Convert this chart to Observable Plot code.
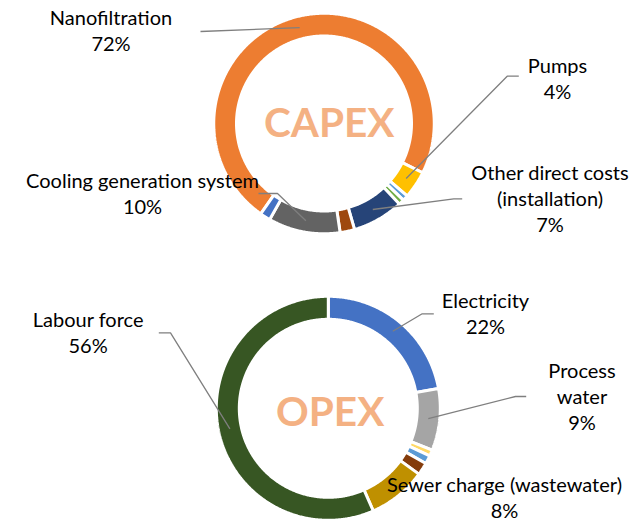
<!DOCTYPE html>
<html><head><meta charset="utf-8">
<script src="https://cdn.jsdelivr.net/npm/d3@7"></script>
<script src="https://cdn.jsdelivr.net/npm/@observablehq/plot@0.6"></script>
<style>html,body{margin:0;padding:0;background:#fff}#chart svg{display:block}</style>
</head><body><div id="chart"></div>
<script>
// ---------------- data ----------------
const capexCategories = ["Nanofiltration","Pumps","Minor item A","Minor item B","Other direct costs (installation)","Minor item C","Cooling generation system","Minor item D"];
const capexValues = [71.7, 4.0, 0.8, 0.8, 7.4, 2.1, 10.4, 1.5];
const capexColors = ["#ED7D31","#FFC000","#5B9BD5","#70AD47","#264478","#9E480E","#636363","#4472C4"];

const opexCategories = ["Electricity","Process water","Minor item 1","Minor item 2","Minor item 3","Sewer charge (wastewater)","Labour force"];
const opexValues = [22.1, 8.9, 0.9, 1.2, 1.8, 8.4, 56.4];
const opexColors = ["#4472C4","#A5A5A5","#FFD966","#5B9BD5","#843C0C","#BF9000","#375623"];

const chartTitles = ["CAPEX","OPEX"];

// label text (line breaks as in the chart)
const labelLines = {
  "Nanofiltration": ["Nanofiltration"],
  "Pumps": ["Pumps"],
  "Other direct costs (installation)": ["Other direct costs","(installation)"],
  "Cooling generation system": ["Cooling generation system"],
  "Electricity": ["Electricity"],
  "Process water": ["Process","water"],
  "Sewer charge (wastewater)": ["Sewer charge (wastewater)"],
  "Labour force": ["Labour force"]
};

// ---------------- layout ----------------
const W = 643, H = 522;
const donuts = {
  CAPEX: {cx: 323.5, cy: 123, rOut: 108.75, rIn: 89, start: 215, titleX: 328.8, titleY: 136},
  OPEX:  {cx: 327.8, cy: 407.8, rOut: 110.5, rIn: 90.5, start: 0, titleX: 329.7, titleY: 425.7}
};
const labelLayout = {
  "Nanofiltration": {x: 110.5, y: 50.7, leader: [[200, 31]]},
  "Pumps": {x: 557, y: 98, leader: [[518.3, 75.7], [506.7, 75.7]]},
  "Other direct costs (installation)": {x: 549.5, y: 231.7, leader: [[461.7, 198.3], [453.3, 198.3]]},
  "Cooling generation system": {x: 142, y: 213, leader: [[258, 193], [277, 193]]},
  "Labour force": {x: 87.6, y: 352.7, leader: [[158.3, 332.3], [170, 332.3]]},
  "Electricity": {x: 485, y: 333.3, leader: [[433.3, 313.3], [421.7, 313.3]]},
  "Process water": {x: 581.5, y: 429, leader: [[525.7, 396], [515, 396]]},
  "Sewer charge (wastewater)": {x: 504, y: 517.5, leader: null}
};
const GAP = 3;
const labelFont = {fontFamily: "Lato", fontSize: 20, lineHeight: 26 / 20};

// ---------------- build ----------------
function polar(d, r, a) {
  const t = a * Math.PI / 180;
  return [d.cx + r * Math.sin(t), d.cy - r * Math.cos(t)];
}
const slicePts = [], labels = [], leaders = [];
function addRing(name, cats, vals, cols) {
  const d = donuts[name];
  const total = d3.sum(vals);
  let acc = 0;
  cats.forEach((c, i) => {
    const a0 = d.start + acc / total * 360; acc += vals[i];
    const a1 = d.start + acc / total * 360;
    const n = Math.max(2, Math.ceil((a1 - a0) / 0.5));
    const pts = [];
    for (let k = 0; k <= n; k++) pts.push(polar(d, d.rOut + GAP / 2, a0 + (a1 - a0) * k / n));
    for (let k = n; k >= 0; k--) pts.push(polar(d, d.rIn - GAP / 2, a0 + (a1 - a0) * k / n));
    pts.push(pts[0]);
    pts.forEach(p => slicePts.push({key: name + ":" + c, x: p[0], y: p[1], color: cols[i]}));
    const L = labelLayout[c];
    if (L) {
      labels.push({x: L.x, y: L.y, text: [...labelLines[c], Math.round(vals[i]) + "%"].join("\n")});
      if (L.leader) {
        const end = polar(d, (d.rOut + d.rIn) / 2, (a0 + a1) / 2);
        [...L.leader, end].forEach(p => leaders.push({key: c, x: p[0], y: p[1]}));
      }
    }
  });
}
addRing("CAPEX", capexCategories, capexValues, capexColors);
addRing("OPEX", opexCategories, opexValues, opexColors);
const titles = chartTitles.map(t => ({text: t, x: donuts[t].titleX, y: donuts[t].titleY}));

const chart = Plot.plot({
  width: W, height: H, margin: 0,
  style: {background: "#fff"},
  x: {domain: [0, W], range: [0, W], axis: null},
  y: {domain: [0, H], range: [0, H], axis: null},
  color: {type: "identity"},
  marks: [
    Plot.line(slicePts, {x: "x", y: "y", z: "key", fill: "color", stroke: "white", strokeWidth: GAP, strokeLinejoin: "miter", curve: "linear"}),
    Plot.text(titles, {x: "x", y: "y", text: "text", fill: "#F4B183", fontFamily: "Lato", fontWeight: "bold", fontSize: 40.5, lineAnchor: "bottom"}),
    Plot.line(leaders, {x: "x", y: "y", z: "key", stroke: "#7F7F7F", strokeWidth: 1.3, strokeLinecap: "butt", strokeLinejoin: "miter"}),
    Plot.text(labels, {x: "x", y: "y", text: "text", fill: "#000", lineAnchor: "bottom", textAnchor: "middle", ...labelFont})
  ]
});
document.getElementById("chart").appendChild(chart);
</script>
</body></html>
